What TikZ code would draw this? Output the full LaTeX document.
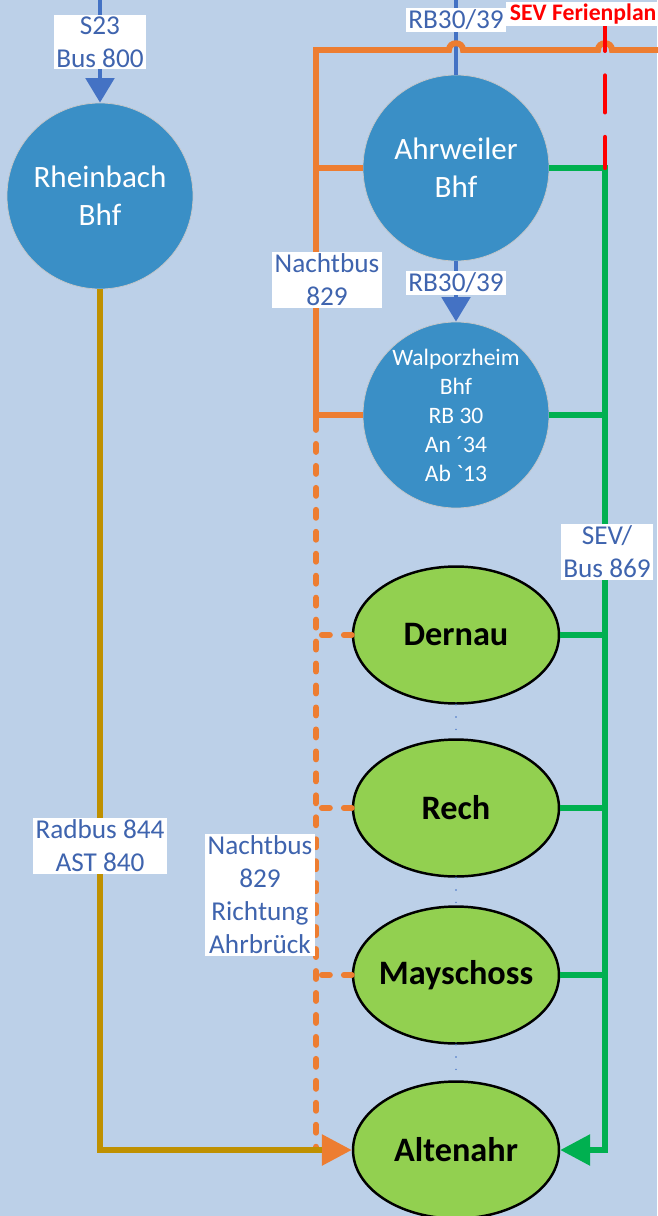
\documentclass[tikz,border=0pt]{standalone}
\usepackage{fontspec}
\setmainfont{Carlito}
\usetikzlibrary{shapes.geometric,arrows.meta}

\definecolor{hgrund}{HTML}{BCD0E8}
\definecolor{bhfblau}{HTML}{3A8FC6}
\definecolor{rbblau}{HTML}{4472C4}
\definecolor{lblblau}{HTML}{3F64AE}
\definecolor{nborange}{HTML}{ED7D31}
\definecolor{sevgruen}{HTML}{00B050}
\definecolor{ortgruen}{HTML}{92D050}
\definecolor{radgold}{HTML}{BF9000}
\definecolor{sevrot}{HTML}{FF0000}

\begin{document}
\begin{tikzpicture}[x=0.02cm, y=-0.02cm,
  bhf/.style={circle, fill=bhfblau, draw=gray!45, thin, text=white, align=center,
              minimum size=3.72cm, inner sep=0pt},
  ort/.style={ellipse, fill=ortgruen, draw=black, line width=1.4pt,
              minimum width=4.12cm, minimum height=2.74cm, inner xsep=-6pt, inner ysep=0pt,
              font=\fontsize{19.5}{23}\selectfont\bfseries},
  lbl/.style={fill=white, text=lblblau, align=center, inner xsep=1.5pt, inner ysep=1pt,
              font=\fontsize{15.5}{18.8}\selectfont},
  ferien/.style={fill=white, text=sevrot, inner xsep=2pt, inner ysep=1pt,
              font=\fontsize{13.5}{15}\selectfont\bfseries},
  rb/.style={draw=rbblau, line width=2.8pt},
  nb/.style={draw=nborange, line width=3.4pt},
  nbdash/.style={nb, line cap=round, dash pattern=on 4.5pt off 8pt},
  sev/.style={draw=sevgruen, line width=3.4pt},
  rad/.style={draw=radgold, line width=3.4pt},
  rot/.style={draw=sevrot, line width=2.4pt, line cap=round, dash pattern=on 21pt off 14pt},
  punkt/.style={draw=rbblau, line width=0.9pt, line cap=round, dash pattern=on 0pt off 7pt},
  tip/.style={-{Triangle[length=14pt, width=16pt]}},
  bigtip/.style={-{Triangle[length=17pt, width=17pt]}}]

  \fill[hgrund] (0,0) rectangle (657,1216);
  \useasboundingbox (0,0) rectangle (657,1216);

  % Bahnhoefe und Orte
  \node[bhf, font=\fontsize{17.7}{21.6}\selectfont] (rheinbach) at (100,196) {Rheinbach\\Bhf};
  \node[bhf, font=\fontsize{17.7}{21.6}\selectfont] (ahrweiler) at (456,168) {Ahrweiler\\Bhf};
  \node[bhf, font=\fontsize{13.4}{16.5}\selectfont] (walporz)   at (456,415)
       {Walporzheim\\Bhf\\RB 30\\An ´34\\Ab \textasciigrave13};
  \node[ort] (dernau)    at (456,635)  {Dernau};
  \node[ort] (rech)      at (456,808)  {Rech};
  \node[ort] (mayschoss) at (456,975)  {Mayschoss};
  \node[ort] (altenahr)  at (456,1150) {Altenahr};

  \coordinate (s23top)   at (100,-5);
  \coordinate (rbtop)    at (456,-5);
  \coordinate (nbecke)   at (316,50);
  \coordinate (nbende)   at (665,50);
  \coordinate (nbstumpf) at (316,422);
  \coordinate (sevtop)   at (605,14);
  \coordinate (sevknick) at (605,168);

  % Bahn
  \draw[rb, tip] (s23top) -- (rheinbach);
  \draw[rb] (rbtop) -- (ahrweiler);
  \draw[rb, tip] (ahrweiler) -- (walporz);

  % Nachtbus 829
  \draw[nb] (nbstumpf) -- (nbecke) -- (449,50) .. controls (449,41) and (463,41) .. (463,50)
            -- (598,50) .. controls (598,41) and (612,41) .. (612,50) -- (nbende);
  \draw[nb] (ahrweiler.west) -- (ahrweiler.west -| nbecke);
  \draw[nb] (walporz.west) -- (walporz.west -| nbecke);
  \draw[nbdash, bigtip] (nbstumpf) |- (altenahr.west);
  \draw[nbdash] (dernau.west) -- (dernau.west -| nbecke);
  \draw[nbdash] (rech.west) -- (rech.west -| nbecke);
  \draw[nbdash] (mayschoss.west) -- (mayschoss.west -| nbecke);

  % Radbus / AST
  \draw[rad, shorten >=17pt] (rheinbach) |- (altenahr.west);

  % SEV
  \draw[sev, bigtip] (ahrweiler.east) -- (sevknick) |- (altenahr.east);
  \draw[sev] (walporz.east) -- (walporz.east -| sevknick);
  \draw[sev] (dernau.east) -- (dernau.east -| sevknick);
  \draw[sev] (rech.east) -- (rech.east -| sevknick);
  \draw[sev] (mayschoss.east) -- (mayschoss.east -| sevknick);
  \draw[rot] (sevtop) -- (sevknick);

  \draw[punkt] (dernau.south) -- (rech.north);
  \draw[punkt] (rech.south) -- (mayschoss.north);
  \draw[punkt] (mayschoss.south) -- (altenahr.north);

  % Beschriftungen
  \node[lbl] (s23lbl) at (100,42)  {S23\\Bus 800};
  \node[lbl] (rblbl)  at (456,20)  {RB30/39};
  \node[lbl] (rblbl2) at (456,283) {RB30/39};
  \node[lbl] (nblbl)  at (327,280) {Nachtbus\\829};
  \node[lbl] (sevlbl) at (607,552) {SEV/\\Bus 869};
  \node[lbl] (radlbl) at (100,846) {Radbus 844\\AST 840};
  \node[lbl] (nblbl2) at (260,895) {Nachtbus\\829\\Richtung\\Ahrbrück};
  \node[ferien, anchor=west] (ferien) at (506,14) {SEV Ferienplan};

\end{tikzpicture}
\end{document}
